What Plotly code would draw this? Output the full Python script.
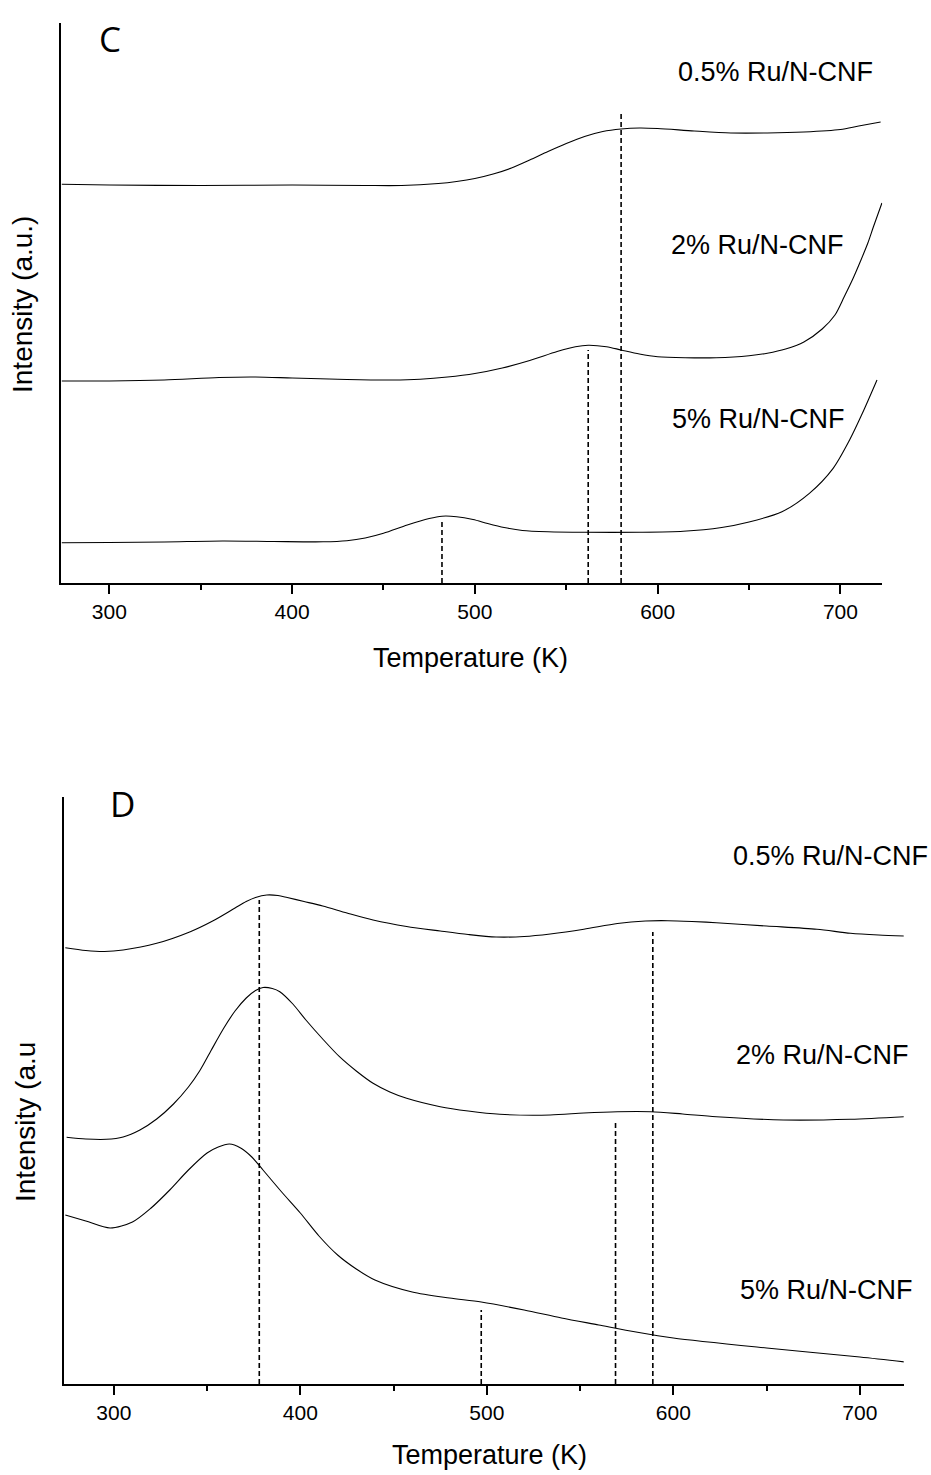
import plotly.graph_objects as go

# ---------------- Panel C data (Temperature K, intensity a.u.) ----------------
c05_T = [274, 300, 350, 400, 440, 460, 480, 490, 500, 510, 520, 530, 540, 550, 560,
         570, 580, 590, 600, 620, 640, 660, 680, 700, 710, 722]
c05_I = [398.7, 398, 397.5, 398, 397.5, 397.5, 399.5, 401.5, 404.5, 409, 415, 423, 431.5, 439.5, 446.5,
         451.5, 454, 455, 454.5, 452, 450, 450, 451, 453.5, 457, 461]

c2_T = [274, 300, 330, 360, 380, 400, 430, 455, 470, 485, 500, 515, 530, 545, 555, 562,
        572, 580, 590, 600, 615, 632, 650, 660, 670, 680, 690, 697, 702, 707, 711, 715, 718, 722.7]
c2_I = [202, 202, 203, 205.5, 206, 205, 203.5, 203, 203.8, 206, 209.5, 215, 222.5, 231.5, 236.3, 237.8,
        236.3, 233, 229, 226.3, 225.3, 225.3, 227.3, 229.8, 234, 241, 254, 268, 286, 305, 322, 340, 356, 380]

c5_T = [274, 300, 330, 362, 390, 417, 430, 440, 450, 463, 475, 482, 490, 499, 507, 516, 526, 540,
        560, 590, 614, 635, 650, 668, 683, 696, 705, 712, 720]
c5_I = [40.3, 40.5, 41, 42, 41.5, 41.2, 42.3, 45, 49.7, 58, 64.5, 66.8, 66.3, 63.5, 59.5, 55.5, 52.5, 51.2,
        50.7, 50.7, 51.7, 55.5, 61, 71.3, 89.7, 114.7, 143, 169.7, 203]

c_peak_T = [482, 562, 580]
c_peak_top = [61, 233, 469]

# ---------------- Panel D data ----------------
d05_T = [274, 285, 295, 305, 323, 341, 353, 365, 371, 376, 382, 388, 393, 402, 412, 425, 439, 457, 475, 490,
         505, 520, 534, 552, 570, 585, 597, 610, 623, 650, 677, 695, 710, 724]
d05_I = [436.3, 433.5, 432.5, 434, 440.7, 452.3, 463, 476, 482.5, 486.5, 489, 488.5, 486.5, 482.5, 478, 471, 464, 457.5, 453, 449.5,
         447, 447.5, 450, 454.7, 460.5, 463, 463.3, 462.5, 461.3, 458, 454.7, 450.7, 449, 448]

d2_T = [274.7, 285, 296, 305, 314, 323, 332, 340, 346, 352, 359, 365, 371, 376, 380, 385, 389,
        396, 403, 412, 421, 430, 439, 448, 457, 475, 490, 507, 534, 552, 570, 588, 605, 623, 659, 695, 724]
d2_I = [246.7, 245, 244.7, 247, 254, 265, 280, 297, 313, 333, 356, 373, 386, 393.5, 396.5, 395.5, 392.3,
        380, 364, 345, 327.3, 313, 300.7, 292, 285.7, 277.3, 273, 269.7, 269, 271, 272.3, 272.3, 270, 267.3, 264, 264.7, 267.3]

d5_T = [274, 285, 298, 310, 320, 330, 340, 350, 356, 362, 368, 374, 380, 390, 400, 410, 420,
        430, 440, 460, 480, 497, 520, 540, 560, 580, 600, 650, 700, 724]
d5_I = [169, 163, 156, 162, 176, 194, 214, 231, 237, 240, 236, 227, 214, 192, 171, 148, 129,
        115, 104, 92, 86, 82, 74, 66, 59, 52, 46, 36, 27, 22]

d_peak_T = [378, 497, 569, 589]
d_peak_top = [484, 74, 262, 452]

sample_labels = ["0.5% Ru/N-CNF", "2% Ru/N-CNF", "5% Ru/N-CNF"]

W, H = 931, 1475
FONT = "Liberation Sans, Arial, sans-serif"

fig = go.Figure()

line = dict(color="black", width=1.1, shape="spline", smoothing=0.8)
for T, I in [(c05_T, c05_I), (c2_T, c2_I), (c5_T, c5_I)]:
    fig.add_trace(go.Scatter(x=T, y=I, mode="lines", line=line, xaxis="x", yaxis="y",
                             showlegend=False, hoverinfo="skip"))
for T, I in [(d05_T, d05_I), (d2_T, d2_I), (d5_T, d5_I)]:
    fig.add_trace(go.Scatter(x=T, y=I, mode="lines", line=line, xaxis="x2", yaxis="y2",
                             showlegend=False, hoverinfo="skip"))

dash = dict(color="black", width=1.6, dash="5px,3px")
for t, top in zip(c_peak_T, c_peak_top):
    fig.add_trace(go.Scatter(x=[t, t], y=[0, top], mode="lines", line=dash, xaxis="x", yaxis="y",
                             showlegend=False, hoverinfo="skip"))
for t, top in zip(d_peak_T, d_peak_top):
    fig.add_trace(go.Scatter(x=[t, t], y=[0, top], mode="lines", line=dash, xaxis="x2", yaxis="y2",
                             showlegend=False, hoverinfo="skip"))

def px_x(p):
    return p / W

def px_y(p):
    return 1 - p / H

xcommon = dict(showline=True, linecolor="black", linewidth=2, ticks="outside", ticklen=9,
               tickwidth=2, tickcolor="black", dtick=100, tick0=0, showgrid=False, zeroline=False,
               tickfont=dict(family=FONT, size=21, color="black"),
               minor=dict(ticks="outside", ticklen=5, tickwidth=2, tickcolor="black", dtick=50, tick0=0,
                          showgrid=False))
ycommon = dict(showline=True, linecolor="black", linewidth=2, ticks="", showticklabels=False,
               showgrid=False, zeroline=False)

fig.update_layout(
    width=W, height=H, margin=dict(l=0, r=0, t=0, b=0),
    paper_bgcolor="white", plot_bgcolor="white",
    xaxis=dict(domain=[px_x(60.7), px_x(882.3)], range=[273.4, 722.9], anchor="y", **xcommon),
    yaxis=dict(domain=[px_y(583), px_y(23)], range=[0, 560], anchor="x", **ycommon),
    xaxis2=dict(domain=[px_x(64), px_x(903.7)], range=[273.3, 723.5], anchor="y2", **xcommon),
    yaxis2=dict(domain=[px_y(1384), px_y(797)], range=[0, 587], anchor="x2", **ycommon),
)

ann = []
def text(x, y, s, size, angle=0, family=FONT):
    ann.append(dict(x=px_x(x), y=px_y(y), xref="paper", yref="paper", text=s, showarrow=False,
                    xanchor="center", yanchor="middle", textangle=angle,
                    font=dict(family=family, size=size, color="black")))

# panel C
text(110, 38, "C", 35, family="Open Sans, sans-serif")
text(775, 72, sample_labels[0], 27)
text(757, 245, sample_labels[1], 27)
text(758, 419, sample_labels[2], 27)
text(470, 658, "Temperature (K)", 27)
text(23, 305, "Intensity (a.u.)", 28, angle=-90)

# panel D
text(122, 803, "D", 35, family="Open Sans, sans-serif")
text(830, 856, sample_labels[0], 27)
text(822, 1055, sample_labels[1], 27)
text(826, 1290, sample_labels[2], 27)
text(489, 1455, "Temperature (K)", 27)
text(25, 1122, "Intensity (a.u", 28, angle=-90)

fig.update_layout(annotations=ann)
fig.write_html("out.html")
